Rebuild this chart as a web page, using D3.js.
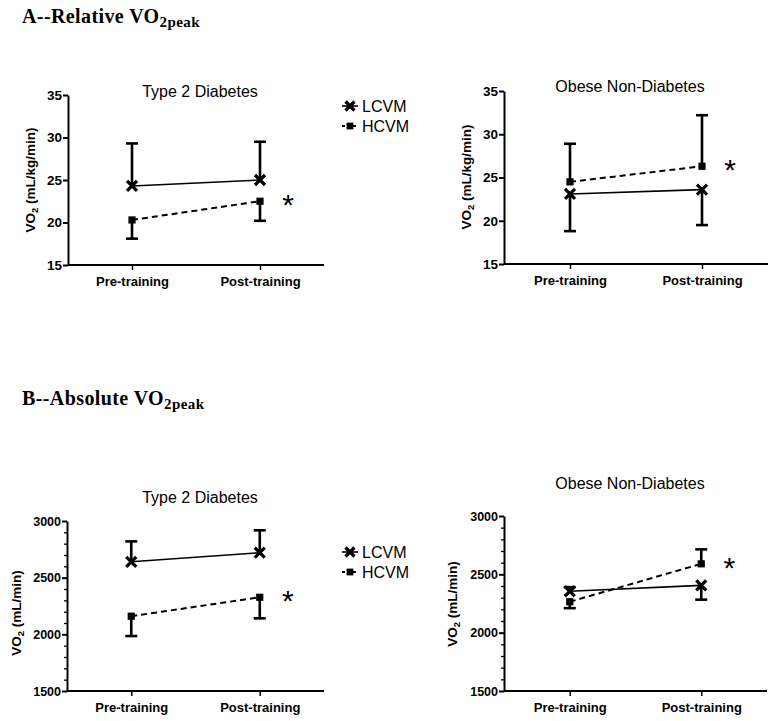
<!DOCTYPE html>
<html><head><meta charset="utf-8">
<script src="https://cdn.jsdelivr.net/npm/d3@7"></script>
<style>
body{margin:0;background:#fff;}
svg{display:block;}
</style></head>
<body>
<svg id="chart" width="778" height="721"></svg>
<script>
// ---- data ----
const categories = ["Pre-training", "Post-training"];
const seriesNames = ["LCVM", "HCVM"];
const panelTitles = ["Type 2 Diabetes", "Obese Non-Diabetes"];

// Relative VO2peak (mL/kg/min): means and error-bar tip values
const relT2D_LCVM = [24.3, 25.0];
const relT2D_LCVM_tip = [29.3, 29.5];
const relT2D_HCVM = [20.3, 22.5];
const relT2D_HCVM_tip = [18.1, 20.2];
const relOND_LCVM = [23.1, 23.6];
const relOND_LCVM_tip = [18.8, 19.5];
const relOND_HCVM = [24.5, 26.3];
const relOND_HCVM_tip = [28.9, 32.2];

// Absolute VO2peak (mL/min)
const absT2D_LCVM = [2640, 2720];
const absT2D_LCVM_tip = [2820, 2918];
const absT2D_HCVM = [2160, 2327];
const absT2D_HCVM_tip = [1985, 2141];
const absOND_LCVM = [2355, 2405];
const absOND_LCVM_tip = [2390, 2283];
const absOND_HCVM = [2265, 2590];
const absOND_HCVM_tip = [2210, 2714];

const relTicks = [15, 20, 25, 30, 35];
const absTicks = [1500, 2000, 2500, 3000];
const absMinorTicks = d3.range(1500, 3001, 100);

// ---- layout ----
const svg = d3.select("#chart");
const FONT = "'Liberation Sans', Arial, sans-serif";

const panels = [
  {x0:68, x1:324, yTop:95, yBot:265, domain:[15,35], ticks:relTicks, minor:null, unit:" (mL/kg/min)", tickFs:13.5,
   title:panelTitles[0], titleY:97, titleX:200, yTitleX:30, yTitleY:180, legend:{x:342,y:106},
   L:relT2D_LCVM, Lt:relT2D_LCVM_tip, H:relT2D_HCVM, Ht:relT2D_HCVM_tip},
  {x0:504, x1:768, yTop:91, yBot:264, domain:[15,35], ticks:relTicks, minor:null, unit:" (mL/kg/min)", tickFs:13.5,
   title:panelTitles[1], titleY:92, titleX:630, yTitleX:466, yTitleY:177, legend:null,
   L:relOND_LCVM, Lt:relOND_LCVM_tip, H:relOND_HCVM, Ht:relOND_HCVM_tip},
  {x0:67, x1:324, yTop:521, yBot:691, domain:[1500,3000], ticks:absTicks, minor:absMinorTicks, unit:" (mL/min)", tickFs:12.5,
   title:panelTitles[0], titleY:503, titleX:200, yTitleX:16, yTitleY:613, legend:{x:342,y:552},
   L:absT2D_LCVM, Lt:absT2D_LCVM_tip, H:absT2D_HCVM, Ht:absT2D_HCVM_tip},
  {x0:504, x1:767, yTop:516, yBot:691, domain:[1500,3000], ticks:absTicks, minor:absMinorTicks, unit:" (mL/min)", tickFs:12.5,
   title:panelTitles[1], titleY:489, titleX:630, yTitleX:452, yTitleY:604, legend:null,
   L:absOND_LCVM, Lt:absOND_LCVM_tip, H:absOND_HCVM, Ht:absOND_HCVM_tip}
];

// headings
function heading(text, y) {
  const t = svg.append("text").attr("x", 22).attr("y", y)
    .attr("font-family", "'Liberation Serif','Times New Roman',serif")
    .attr("font-weight", "bold").attr("font-size", 20).attr("fill", "#000")
    .attr("letter-spacing", 0.4);
  t.append("tspan").text(text);
  t.append("tspan").attr("font-size", 15).attr("dy", 4).text("2peak");
}
heading("A--Relative VO", 23);
heading("B--Absolute VO", 405);

function drawX(g, cx, cy, s) {
  g.append("path").attr("d", `M${cx-s},${cy-s}L${cx+s},${cy+s}M${cx-s},${cy+s}L${cx+s},${cy-s}`)
    .attr("stroke", "#000").attr("stroke-width", 3.2).attr("fill", "none");
}
function drawSq(g, cx, cy, s) {
  g.append("rect").attr("x", cx - s).attr("y", cy - s).attr("width", 2*s).attr("height", 2*s).attr("fill", "#000");
}

panels.forEach(p => {
  const g = svg.append("g");
  const x = d3.scalePoint().domain(categories).range([p.x0, p.x1]).padding(0.5);
  const y = d3.scaleLinear().domain(p.domain).range([p.yBot, p.yTop]);

  // minor ticks
  if (p.minor) {
    g.append("g").attr("transform", `translate(${p.x0},0)`)
      .call(d3.axisLeft(y).tickValues(p.minor.filter(v => !p.ticks.includes(v))).tickSize(3).tickFormat(""))
      .call(a => a.select(".domain").remove())
      .call(a => a.selectAll("line").attr("stroke-width", 1.3));
  }
  // y axis
  const ya = g.append("g").attr("transform", `translate(${p.x0},0)`)
    .call(d3.axisLeft(y).tickValues(p.ticks).tickFormat(d3.format("d")).tickSize(5).tickPadding(1).tickSizeOuter(0));
  ya.select(".domain").attr("stroke-width", 2);
  ya.selectAll("line").attr("stroke-width", 2);
  ya.selectAll("text").attr("font-family", FONT).attr("font-weight", "bold").attr("font-size", p.tickFs).attr("fill", "#000");

  // x axis
  const xa = g.append("g").attr("transform", `translate(0,${p.yBot})`)
    .call(d3.axisBottom(x).tickSize(5).tickPadding(7).tickSizeOuter(0));
  xa.select(".domain").attr("stroke-width", 2).attr("d", `M${p.x0},0H${p.x1}`);
  xa.selectAll("line").attr("stroke-width", 1.5);
  xa.selectAll("text").attr("font-family", FONT).attr("font-weight", "bold").attr("font-size", 13).attr("fill", "#000");

  // panel title
  g.append("text").attr("x", p.titleX).attr("y", p.titleY).attr("text-anchor", "middle")
    .attr("font-family", FONT).attr("font-size", 16).attr("fill", "#000").text(p.title);

  // y title
  const yt = g.append("text").attr("transform", `translate(${p.yTitleX + 5},${p.yTitleY}) rotate(-90)`)
    .attr("text-anchor", "middle").attr("font-family", FONT).attr("font-weight", "bold")
    .attr("font-size", 13.5).attr("fill", "#000");
  yt.append("tspan").text("VO");
  yt.append("tspan").attr("font-size", 9.5).attr("dy", 3).text("2");
  yt.append("tspan").attr("dy", -3).text(p.unit);

  // error bars
  const cw = 6;
  [[p.L, p.Lt], [p.H, p.Ht]].forEach(([vals, tips]) => {
    categories.forEach((c, i) => {
      const cx = x(c);
      g.append("line").attr("x1", cx).attr("x2", cx).attr("y1", y(vals[i])).attr("y2", y(tips[i]))
        .attr("stroke", "#000").attr("stroke-width", 2.6);
      g.append("line").attr("x1", cx - cw).attr("x2", cx + cw).attr("y1", y(tips[i])).attr("y2", y(tips[i]))
        .attr("stroke", "#000").attr("stroke-width", 2.6);
    });
  });

  // lines
  const line = d3.line().x((d, i) => x(categories[i])).y(d => y(d));
  g.append("path").datum(p.L).attr("d", line).attr("fill", "none").attr("stroke", "#000").attr("stroke-width", 1.6);
  g.append("path").datum(p.H).attr("d", line).attr("fill", "none").attr("stroke", "#000").attr("stroke-width", 2)
    .attr("stroke-dasharray", "6,4");

  // markers
  p.L.forEach((v, i) => drawX(g, x(categories[i]), y(v), 5));
  p.H.forEach((v, i) => drawSq(g, x(categories[i]), y(v), 3.6));

  // asterisk
  g.append("text").attr("x", x(categories[1]) + 28).attr("y", y(p.H[1]) + 14)
    .attr("text-anchor", "middle").attr("font-family", FONT).attr("font-size", 30).attr("fill", "#000").text("*");

  // legend
  if (p.legend) {
    const lx = p.legend.x, ly = p.legend.y;
    g.append("line").attr("x1", lx).attr("x2", lx + 16).attr("y1", ly).attr("y2", ly).attr("stroke", "#000").attr("stroke-width", 1.6);
    drawX(g, lx + 8, ly, 4.5);
    g.append("text").attr("x", lx + 20).attr("y", ly + 6).attr("font-family", FONT).attr("font-size", 16).text(seriesNames[0]);
    const ly2 = ly + 20;
    g.append("line").attr("x1", lx).attr("x2", lx + 16).attr("y1", ly2).attr("y2", ly2).attr("stroke", "#000").attr("stroke-width", 2)
      .attr("stroke-dasharray", "3,2.5");
    drawSq(g, lx + 8, ly2, 3.4);
    g.append("text").attr("x", lx + 20).attr("y", ly2 + 6).attr("font-family", FONT).attr("font-size", 16).text(seriesNames[1]);
  }
});
</script>
</body></html>
